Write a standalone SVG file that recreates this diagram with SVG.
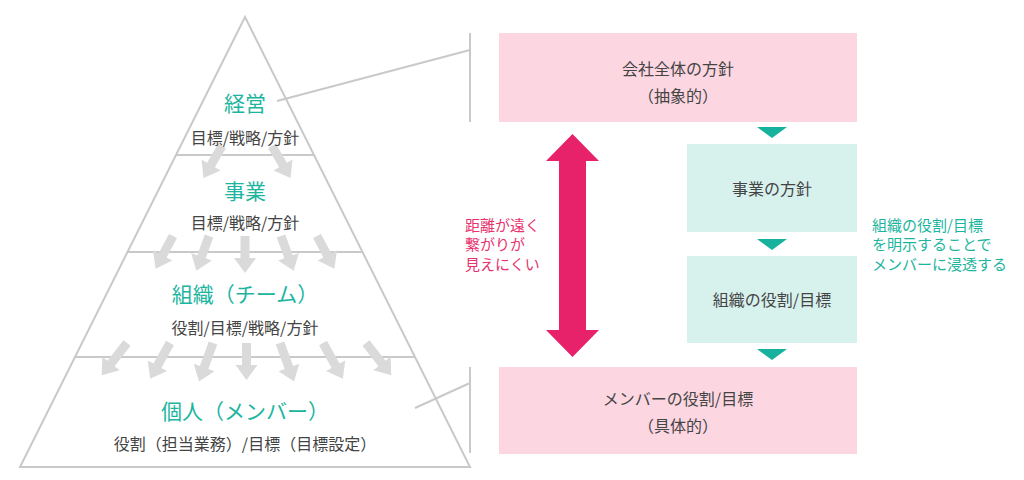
<svg xmlns="http://www.w3.org/2000/svg" width="1024" height="480" viewBox="0 0 1024 480">
<style>
text{font-family:"Noto Sans CJK JP","Noto Sans",sans-serif;dominant-baseline:central}
.ln{stroke:#c9c9c9;stroke-width:2;fill:none}
.h{font-size:21px;fill:#1db5a0;font-weight:400;text-anchor:middle}
.s{font-size:16px;fill:#444;text-anchor:middle}
.g{fill:#dadada}
.pink{fill:#fcd6e1}
.teal{fill:#d7f1ed}
.tri{fill:#17b29d}
.pt{font-size:15px;fill:#e8336f}
.tt{font-size:15px;fill:#1db5a0}
</style>
<defs>
<path id="a" d="M-4.5,0H4.5V22H11L0,37L-11,22H-4.5Z"/>
<path id="b" d="M-4.5,0H4.5V26H11L0,41L-11,26H-4.5Z"/>
<path id="t" d="M-15,0H15L0,11Z"/>
</defs>
<rect width="1024" height="480" fill="#fff"/>

<g id="pyramid">
<path class="ln" d="M245,17L470,467H20Z"/>
<line class="ln" x1="176" y1="155" x2="314" y2="155"/>
<line class="ln" x1="128" y1="252" x2="362" y2="252"/>
<line class="ln" x1="75" y1="357" x2="415" y2="357"/>
</g>

<g id="flow-arrows" class="g">
<use href="#a" transform="translate(222,146) rotate(30)"/>
<use href="#a" transform="translate(272,146) rotate(-30)"/>
<use href="#a" transform="translate(173,236) rotate(28)"/>
<use href="#a" transform="translate(209,236) rotate(20)"/>
<use href="#a" transform="translate(245,236)"/>
<use href="#a" transform="translate(281,236) rotate(-20)"/>
<use href="#a" transform="translate(317,236) rotate(-28)"/>
<use href="#b" transform="translate(127,343) rotate(38)"/>
<use href="#b" transform="translate(170,343) rotate(29)"/>
<use href="#b" transform="translate(213,343) rotate(20)"/>
<use href="#a" transform="translate(246.5,343)"/>
<use href="#b" transform="translate(280,343) rotate(-20)"/>
<use href="#b" transform="translate(323,343) rotate(-29)"/>
<use href="#b" transform="translate(366,343) rotate(-38)"/>
</g>

<g id="level-keiei">
<text class="h" x="245" y="102">経営</text>
<text class="s" x="245" y="137">目標/戦略/方針</text>
</g>
<g id="level-jigyo">
<text class="h" x="245" y="190">事業</text>
<text class="s" x="245" y="222">目標/戦略/方針</text>
</g>
<g id="level-soshiki">
<text class="h" x="245" y="293">組織（チーム）</text>
<text class="s" x="245" y="327">役割/目標/戦略/方針</text>
</g>
<g id="level-kojin">
<text class="h" x="245" y="410">個人（メンバー）</text>
<text class="s" x="245" y="443">役割（担当業務）/目標（目標設定）</text>
</g>

<g id="connectors">
<line class="ln" x1="277" y1="101" x2="470" y2="50"/>
<line class="ln" x1="470" y1="33" x2="470" y2="122"/>
<line class="ln" x1="415" y1="408" x2="470" y2="383"/>
<line class="ln" x1="470" y1="367" x2="470" y2="453"/>
<use href="#t" class="tri" transform="translate(772,127)"/>
<use href="#t" class="tri" transform="translate(772,239)"/>
<use href="#t" class="tri" transform="translate(772,349)"/>
</g>

<g id="box-company">
<rect class="pink" x="499" y="33" width="358" height="89"/>
<text class="s" x="678" y="68">会社全体の方針</text>
<text class="s" x="678" y="95">（抽象的）</text>
</g>
<g id="box-business">
<rect class="teal" x="687" y="144" width="170" height="88"/>
<text class="s" x="772" y="188">事業の方針</text>
</g>
<g id="box-org">
<rect class="teal" x="687" y="256" width="170" height="87"/>
<text class="s" x="772" y="299">組織の役割/目標</text>
</g>
<g id="box-member">
<rect class="pink" x="499" y="367" width="358" height="87"/>
<text class="s" x="678" y="398">メンバーの役割/目標</text>
<text class="s" x="678" y="425">（具体的）</text>
</g>

<g id="distance">
<path fill="#e7216a" d="M572.5,134L599,161H586V330H599L572.5,357L546,330H559V161H546Z"/>
<text class="pt" x="465" y="224">距離が遠く</text>
<text class="pt" x="465" y="243.5">繋がりが</text>
<text class="pt" x="465" y="263">見えにくい</text>
</g>

<g id="note">
<text class="tt" x="872" y="224">組織の役割/目標</text>
<text class="tt" x="872" y="243.5">を明示することで</text>
<text class="tt" x="872" y="263">メンバーに浸透する</text>
</g>
</svg>
